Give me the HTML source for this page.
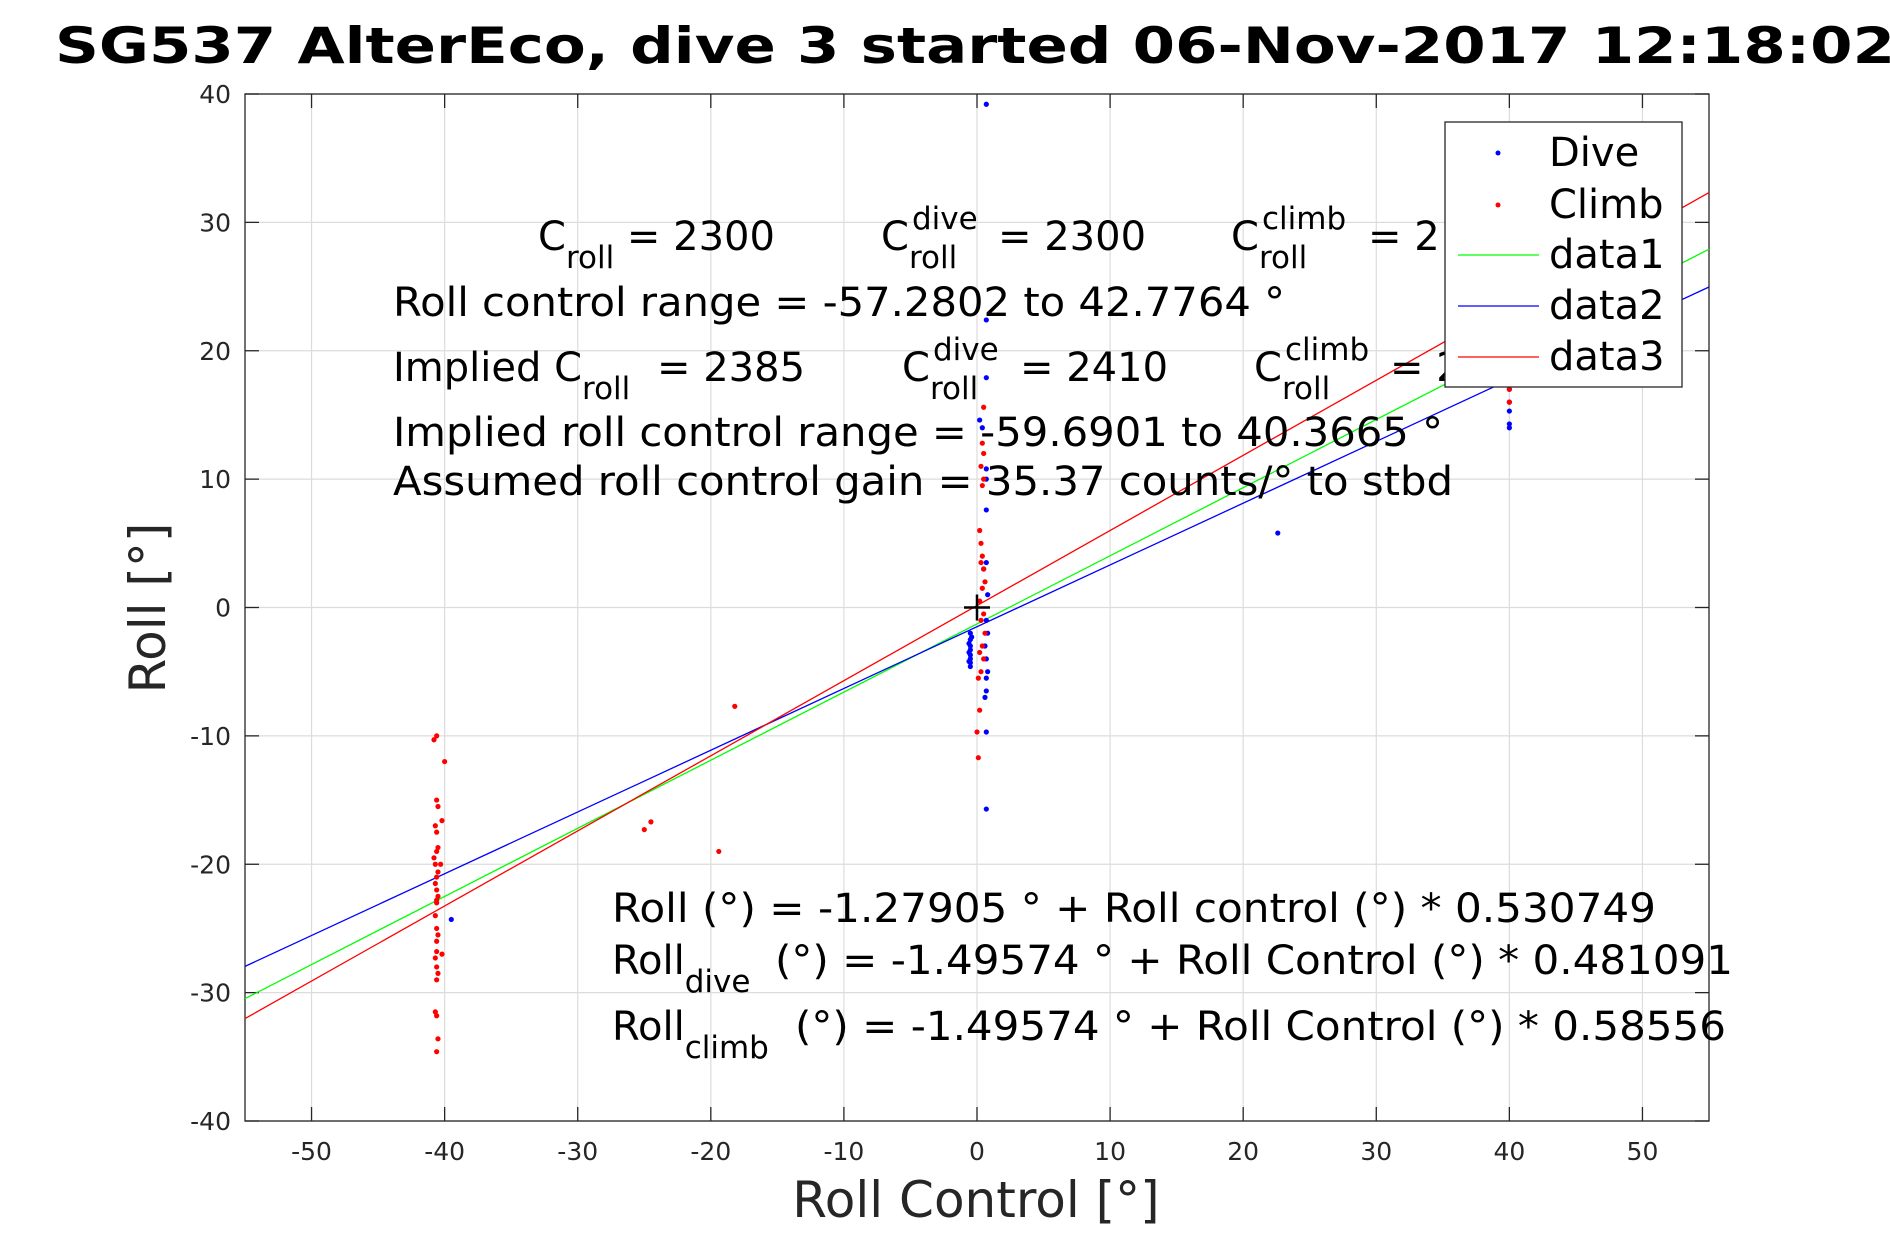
<!DOCTYPE html>
<html><head><meta charset="utf-8"><style>
html,body{margin:0;padding:0;background:#fff;}
svg{display:block;font-family:"DejaVu Sans","Liberation Sans",sans-serif;}
</style></head><body>
<svg id="chart" width="1890" height="1260" viewBox="0 0 1890 1260" xmlns="http://www.w3.org/2000/svg">
<rect width="1890" height="1260" fill="#fff"/>
<text x="55" y="63" font-size="50" font-weight="bold" textLength="1840" lengthAdjust="spacingAndGlyphs">SG537 AlterEco, dive 3 started 06-Nov-2017 12:18:02</text>
<g id="grid"></g>
<g id="axes"></g>
<g id="series"></g>
<g id="annot" font-size="40" fill="#000">
<text x="538" y="250">C<tspan font-size="31" dy="18">roll</tspan><tspan dy="-18"> = 2300</tspan></text>
<text x="881" y="250">C<tspan font-size="31" dy="18">roll</tspan><tspan font-size="31" x="912" dy="-39">dive</tspan><tspan x="998" dy="21">= 2300</tspan></text>
<text x="1231" y="250">C<tspan font-size="31" dy="18">roll</tspan><tspan font-size="31" x="1262" dy="-39">climb</tspan><tspan x="1368" dy="21">= 2</tspan></text>
<text x="393" y="316" textLength="892" lengthAdjust="spacingAndGlyphs">Roll control range = -57.2802 to 42.7764 °</text>
<text x="393" y="381">Implied C<tspan font-size="31" dy="18">roll</tspan><tspan x="657" dy="-18">= 2385</tspan></text>
<text x="902" y="381">C<tspan font-size="31" dy="18">roll</tspan><tspan font-size="31" x="933" dy="-39">dive</tspan><tspan x="1020" dy="21">= 2410</tspan></text>
<text x="1254" y="381">C<tspan font-size="31" dy="18">roll</tspan><tspan font-size="31" x="1285" dy="-39">climb</tspan><tspan x="1390" dy="21">= 2</tspan></text>
<text x="393" y="446" textLength="1050" lengthAdjust="spacingAndGlyphs">Implied roll control range = -59.6901 to 40.3665 °</text>
<text x="393" y="495" textLength="1060" lengthAdjust="spacingAndGlyphs">Assumed roll control gain = 35.37 counts/° to stbd</text>
<text x="612" y="922" textLength="1044" lengthAdjust="spacingAndGlyphs">Roll (°) = -1.27905 ° + Roll control (°) * 0.530749</text>
<text x="612" y="974">Roll<tspan font-size="31" dy="18">dive</tspan><tspan x="775" dy="-18" textLength="958" lengthAdjust="spacingAndGlyphs">(°) = -1.49574 ° + Roll Control (°) * 0.481091</tspan></text>
<text x="612" y="1040">Roll<tspan font-size="31" dy="18">climb</tspan><tspan x="795" dy="-18" textLength="931" lengthAdjust="spacingAndGlyphs">(°) = -1.49574 ° + Roll Control (°) * 0.58556</tspan></text>
</g>
<g id="legend">
<rect x="1445" y="122" width="237" height="265" fill="#fff" stroke="#262626" stroke-width="1.3"/>
<g><circle cx="1498" cy="153" r="2.5" fill="#0000ff"/><text x="1549" y="166" font-size="40">Dive</text></g>
<g><circle cx="1498" cy="205" r="2.5" fill="#ff0000"/><text x="1549" y="218" font-size="40">Climb</text></g>
<g><line x1="1458" x2="1539" y1="255" y2="255" stroke="#00ff00" stroke-width="1.3"/><text x="1549" y="268" font-size="40">data1</text></g>
<g><line x1="1458" x2="1539" y1="306" y2="306" stroke="#0000ff" stroke-width="1.3"/><text x="1549" y="319" font-size="40">data2</text></g>
<g><line x1="1458" x2="1539" y1="357" y2="357" stroke="#ff0000" stroke-width="1.3"/><text x="1549" y="370" font-size="40">data3</text></g>
</g>
</svg>
<script>
const xTicks = [-50,-40,-30,-20,-10,0,10,20,30,40,50];
const yTicks = [-40,-30,-20,-10,0,10,20,30,40];
const lineNames = ['data1','data2','data3'];
const lineColors = ['#00ff00','#0000ff','#ff0000'];
const lineIntercepts = [-1.27905,-1.49574,0.15];
const lineSlopes = [0.530749,0.481091,0.585];
const diveX = [0.7,0.7,0.7,0.2,0.4,0.7,0.7,0.7,0.7,0.5,0.8,0.7,0.8,0.6,0.7,0.8,0.7,0.7,0.6,0.7,0.7,-0.5,-0.5,-0.5,-0.5,-0.5,-0.5,-0.5,-0.5,-0.4,-0.6,-0.6,-0.6,22.6,-39.5,40,40,40,40,40,40];
const diveY = [39.2,22.4,17.9,14.6,14,10.8,10,7.6,3.5,3,1,-1,-2,-3,-4,-5,-5.5,-6.5,-7,-9.7,-15.7,-2,-2.5,-3,-3.3,-3.7,-4,-4.3,-4.6,-2.3,-2.8,-3.5,-4.2,5.8,-24.3,14,14.3,15.3,16,17,18];
const climbX = [-40.6,-40.8,-40.6,-40.5,-40.7,-40.6,-40.5,-40.6,-40.8,-40.7,-40.5,-40.6,-40.7,-40.6,-40.5,-40.6,-40.7,-40.6,-40.5,-40.6,-40.6,-40.7,-40.6,-40.5,-40.6,-40.7,-40.6,-40.5,-40.6,-40.6,-40,-40.2,-40.3,-40.2,-25,-24.5,-19.4,-18.2,0.5,0.4,0.5,0.3,0.5,0.4,0.2,0.3,0.4,0.3,0.5,0.6,0.4,0.2,0.5,0.3,0.6,0.4,0.2,0.5,0.3,0.1,0.2,0,0.1,40,40];
const climbY = [-10,-10.3,-15,-15.5,-17,-17.5,-18.7,-19,-19.5,-20,-20.6,-21,-21.5,-22,-22.5,-23,-24,-25,-25.5,-26,-26.8,-27.3,-28,-28.5,-29,-31.5,-31.8,-33.6,-34.6,-22.8,-12,-16.6,-20,-27,-17.3,-16.7,-19,-7.7,15.6,12.8,12,11,10,9.5,6,5,4,3.5,3,2,1.5,0.5,-0.5,-1,-2,-3,-3.5,-4,-5,-5.5,-8,-9.7,-11.7,16,17];

const NS='http://www.w3.org/2000/svg';
const L=245,R=1709,T=94,B=1121,xmin=-55,xmax=55,ymin=-40,ymax=40;
function sx(v){return L+(v-xmin)/(xmax-xmin)*(R-L);}
function sy(v){return B-(v-ymin)/(ymax-ymin)*(B-T);}
function mk(tag,attrs,parent){const e=document.createElementNS(NS,tag);for(const k in attrs)e.setAttribute(k,attrs[k]);parent.appendChild(e);return e;}
const grid=document.getElementById('grid'),axes=document.getElementById('axes'),series=document.getElementById('series');
xTicks.forEach(t=>{
  const g=mk('line',{x1:sx(t),x2:sx(t),y1:T,y2:B,stroke:'#dcdcdc','stroke-width':1.2},grid);
  
  
  mk('line',{x1:sx(t),x2:sx(t),y1:B,y2:B-14,stroke:'#262626','stroke-width':1.3},axes);
  mk('line',{x1:sx(t),x2:sx(t),y1:T,y2:T+14,stroke:'#262626','stroke-width':1.3},axes);
  const lb=mk('text',{x:sx(t),y:1160,'font-size':25,'text-anchor':'middle',fill:'#262626'},axes);
  lb.textContent=t;
  
  
});
yTicks.forEach(t=>{
  const g=mk('line',{x1:L,x2:R,y1:sy(t),y2:sy(t),stroke:'#dcdcdc','stroke-width':1.2},grid);
  
  
  mk('line',{x1:L,x2:L+14,y1:sy(t),y2:sy(t),stroke:'#262626','stroke-width':1.3},axes);
  mk('line',{x1:R,x2:R-14,y1:sy(t),y2:sy(t),stroke:'#262626','stroke-width':1.3},axes);
  const lb=mk('text',{x:231,y:sy(t)+9,'font-size':25,'text-anchor':'end',fill:'#262626'},axes);
  lb.textContent=t;
  
  
});
const box=mk('rect',{x:L,y:T,width:R-L,height:B-T,fill:'none',stroke:'#262626','stroke-width':1.3},axes);


const xl=mk('text',{x:976,y:1217,'font-size':50,'text-anchor':'middle',fill:'#262626'},axes);
xl.textContent='Roll Control [°]';


const yl=mk('text',{x:0,y:0,'font-size':50,'text-anchor':'middle',fill:'#262626',transform:'translate(165,608) rotate(-90)'},axes);
yl.textContent='Roll [°]';



lineNames.forEach((n,i)=>{
  const ln=mk('line',{x1:sx(xmin),y1:sy(lineIntercepts[i]+lineSlopes[i]*xmin),x2:sx(xmax),y2:sy(lineIntercepts[i]+lineSlopes[i]*xmax),stroke:lineColors[i],'stroke-width':1.3},series);
  
  
});
diveX.forEach((x,i)=>{
  const c=mk('circle',{cx:sx(x),cy:sy(diveY[i]),r:2.6,fill:'#0000ff'},series);
  
  
});
climbX.forEach((x,i)=>{
  const c=mk('circle',{cx:sx(x),cy:sy(climbY[i]),r:2.6,fill:'#ff0000'},series);
  
  
});
const pl=mk('path',{d:`M${sx(0)-13},${sy(0)}H${sx(0)+13}M${sx(0)},${sy(0)-13}V${sy(0)+13}`,stroke:'#000','stroke-width':2.5},series);


</script>
</body></html>
